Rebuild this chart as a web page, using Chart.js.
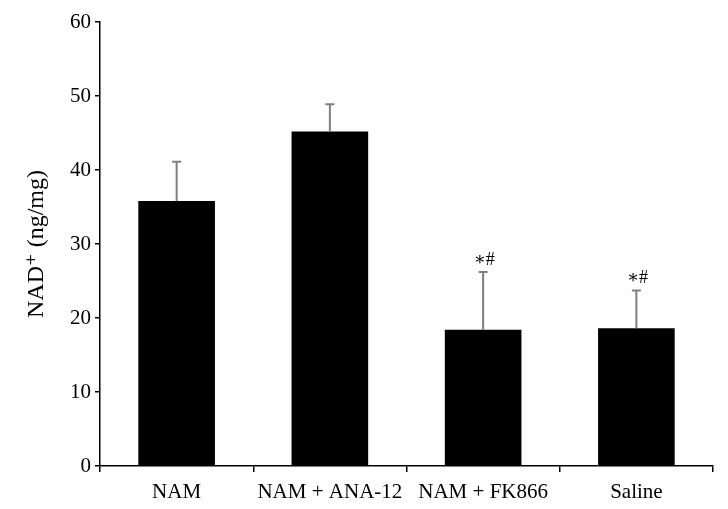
<!DOCTYPE html>
<html>
<head>
<meta charset="utf-8">
<script src="https://cdn.jsdelivr.net/npm/chart.js@4"></script>
<style>
  html, body { margin: 0; padding: 0; background: #fff; }
  #wrap { width: 728px; height: 509px; }
</style>
</head>
<body>
<div id="wrap"><canvas id="nadChart" width="728" height="509"></canvas></div>
<script>
// values
const groups = ["NAM", "NAM + ANA-12", "NAM + FK866", "Saline"];
const nadMeans = [35.8, 45.2, 18.4, 18.6];
const nadErrTop = [41.1, 48.9, 26.2, 23.7];
const sigMarks = ["", "", "∗#", "∗#"];
const yTicks = [0, 10, 20, 30, 40, 50, 60];

const serif = "'Liberation Serif', 'DejaVu Serif', serif";

// error bars + significance marks
const errorBars = {
  id: "errorBars",
  afterDatasetsDraw(chart) {
    const ctx = chart.ctx;
    const meta = chart.getDatasetMeta(0);
    const y = chart.scales.y;
    ctx.save();
    meta.data.forEach((bar, i) => {
      const x = bar.x;
      const top = y.getPixelForValue(nadErrTop[i]);
      const base = y.getPixelForValue(nadMeans[i]);
      ctx.strokeStyle = "#7f7f7f";
      ctx.lineWidth = 2;
      ctx.beginPath();
      ctx.moveTo(x, base);
      ctx.lineTo(x, top);
      ctx.moveTo(x - 4.5, top);
      ctx.lineTo(x + 4.5, top);
      ctx.stroke();
      if (sigMarks[i]) {
        ctx.fillStyle = "#000";
        ctx.font = "18px " + serif;
        ctx.textAlign = "center";
        ctx.textBaseline = "bottom";
        ctx.fillText(sigMarks[i], x + 1, top - 3);
      }
    });
    ctx.restore();
  }
};

new Chart(document.getElementById("nadChart"), {
  type: "bar",
  data: {
    labels: groups,
    datasets: [{
      data: nadMeans,
      backgroundColor: "#000",
      borderWidth: 0,
      barPercentage: 0.5,
      categoryPercentage: 1.0
    }]
  },
  options: {
    responsive: false,
    animation: false,
    layout: { padding: { left: 0, right: 15, top: 22, bottom: 0 } },
    plugins: { legend: { display: false }, tooltip: { enabled: false } },
    scales: {
      x: {
        grid: { display: true, drawOnChartArea: false, drawTicks: true, tickLength: 6, color: "#000", lineWidth: 1.5 },
        border: { display: true, color: "#000", width: 1.5 },
        ticks: { color: "#000", font: { family: serif, size: 21 }, padding: 8, maxRotation: 0, autoSkip: false },
        afterFit(scale) { scale.height = 43; }
      },
      y: {
        min: 0,
        max: 60,
        afterBuildTicks(scale) { scale.ticks = yTicks.map(v => ({ value: v })); },
        grid: { display: true, drawOnChartArea: false, drawTicks: true, tickLength: 5, color: "#000", lineWidth: 1.5 },
        border: { display: true, color: "#000", width: 1.5 },
        ticks: { color: "#000", font: { family: serif, size: 21 }, padding: 4 },
        title: {
          display: true,
          text: "NAD⁺ (ng/mg)",
          color: "#000",
          font: { family: serif, size: 24 },
          padding: { top: 22, bottom: 0 }
        },
        afterFit(scale) { scale.width = 100; }
      }
    }
  },
  plugins: [errorBars]
});
</script>
</body>
</html>
